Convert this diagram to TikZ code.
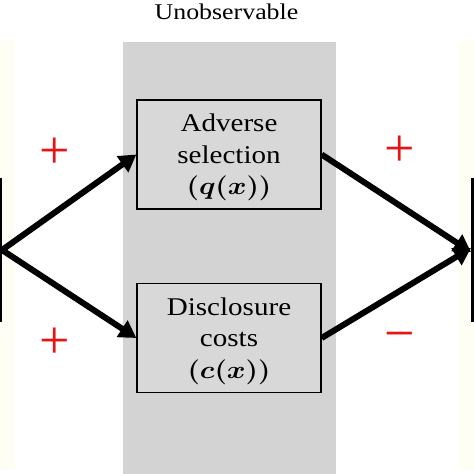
\documentclass[tikz,border=0pt]{standalone}
\usepackage{fontspec}
\setmainfont{Liberation Serif}
\usetikzlibrary{arrows.meta}
\definecolor{bandgray}{RGB}{211,211,211}
\definecolor{boxgray}{RGB}{216,216,216}
\definecolor{cream}{RGB}{255,254,245}
\definecolor{signred}{RGB}{230,20,20}
\newcommand{\mathline}[1]{{\fontsize{30}{32}\selectfont\boldmath #1}}
\tikzset{
  stepbox/.style={draw=black, line width=1.3pt, fill=boxgray, minimum width=184pt, minimum height=109pt, inner sep=0pt},
  boxtext/.style={align=center, inner sep=0pt, xscale=1.14, font=\fontsize{25.5}{31.5}\selectfont},
  thickarrow/.style={line width=6pt, -{Triangle[length=17pt,width=19pt]}},
  sign/.style={text=signred, font=\fontsize{54}{54}\selectfont, inner sep=0pt},
  bar/.style={line width=2.5pt}
}
\begin{document}
\begin{tikzpicture}[x=1pt,y=-1pt]
\useasboundingbox (0,0) rectangle (474,474);
\fill[white] (0,0) rectangle (474,474);
% faint side bands
\fill[cream] (0,40) rectangle (15,470);
\fill[cream] (459,40) rectangle (474,470);
% unobservable band
\fill[bandgray] (123,42) rectangle (336,474);
\node[font=\fontsize{22.5}{24}\selectfont, xscale=1.15, inner sep=0pt] (title) at (226.5,12) {Unobservable};
% boxes
\node[stepbox] (adv) at (229,154.5) {};
\node[stepbox] (dis) at (229,338) {};
\node[boxtext] (advt) at ([yshift=-3pt]adv.center) {Adverse\\selection\\\mathline{$(q(x))$}};
\node[boxtext] (dist) at ([yshift=-3pt]dis.center) {Disclosure\\costs\\\mathline{$(c(x))$}};
% end bars
\coordinate (L) at (2,250);
\coordinate (R) at (471,250);
\coordinate (Lt) at (1.2,178);
\coordinate (Lb) at (1.2,322);
\coordinate (Rt) at (472.5,178);
\coordinate (Rb) at (472.5,322);
\draw[bar] (Lt) -- (Lb);
\draw[bar] (Rt) -- (Rb);
% arrows
\draw[thickarrow] (L) -- (adv.west);
\draw[thickarrow] (L) -- (dis.west);
\draw[thickarrow] (adv.east) -- ([yshift=-2pt]R);
\draw[thickarrow] (dis.east) -- ([yshift=2pt]R);
% signs
\node[sign] (s1) at (55,153) {+};
\node[sign] (s2) at (55,343) {+};
\node[sign] (s3) at (400,151) {+};
\node[sign] (s4) at (400,342) {−};
\end{tikzpicture}
\end{document}
